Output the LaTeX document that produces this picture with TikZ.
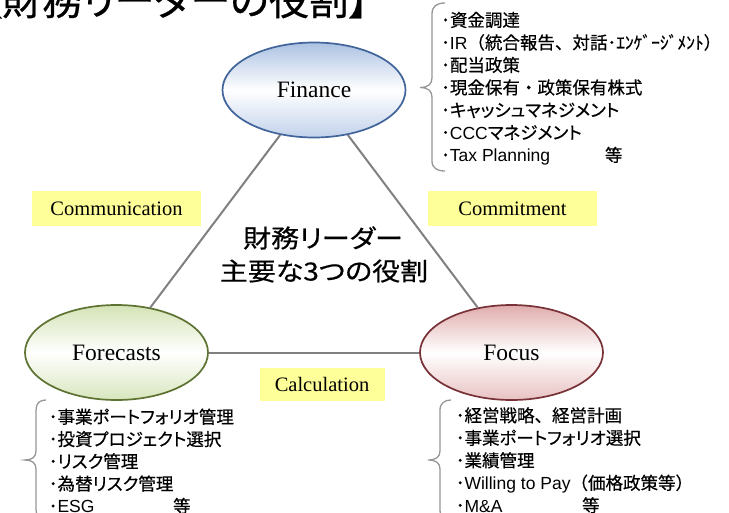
\documentclass[tikz,border=0pt]{standalone}
\usepackage{graphicx}
\usepackage{fontspec}
\setmainfont{Liberation Serif}
\newfontfamily\cjk{Noto Sans CJK JP}[RawFeature=+palt, FakeBold=0.5]
\newfontfamily\cjkf{Noto Sans CJK JP}[FakeBold=0.5]
\newfontfamily\lsans{Liberation Sans}
\newcommand\ltn[1]{{\lsans #1}}
\newcommand\fw[1]{{\cjkf #1}}
\usetikzlibrary{shapes.geometric}
\definecolor{finB}{RGB}{65,100,155}
\definecolor{finT}{RGB}{172,194,226}
\definecolor{finD}{RGB}{194,210,235}
\definecolor{fcB}{RGB}{94,115,50}
\definecolor{fcT}{RGB}{212,227,182}
\definecolor{fcD}{RGB}{216,230,190}
\definecolor{foB}{RGB}{120,50,55}
\definecolor{foT}{RGB}{224,172,172}
\definecolor{foD}{RGB}{232,194,194}
\definecolor{ybox}{RGB}{255,255,153}
\definecolor{lgray}{RGB}{128,128,128}
\definecolor{bgray}{RGB}{150,150,150}
\begin{document}
\begin{tikzpicture}[x=1pt,y=-1pt,
  role/.style={ellipse, line width=1.7pt, minimum width=183pt, minimum height=95pt,
    inner sep=0pt, font=\fontsize{23.5}{28}\selectfont},
  lab/.style={fill=ybox, minimum width=169pt, minimum height=35pt, inner sep=0pt,
    font=\fontsize{20.5}{24}\selectfont},
  conn/.style={draw=lgray, line width=2pt},
  bracepath/.style={draw=bgray, line width=1.3pt},
  item/.style={anchor=base west, inner sep=0pt, font=\cjk\fontsize{17.5}{21}\selectfont},
  ctext/.style={anchor=base, inner sep=0pt, font=\cjk\fontsize{25}{30}\selectfont}]
\useasboundingbox (0,0) rectangle (729,512);
\clip (0,0) rectangle (729,512);

% title (partly cut off)
\node[anchor=base east, inner sep=0pt, font=\cjk\fontsize{40}{44}\selectfont] (title) at (369,15) {【財務リーダーの役割】};

% role ellipses
\node[role, draw=finB, top color=finT, bottom color=finD, middle color=white] (fin) at (314,90) {Finance};
\node[role, draw=fcB, top color=fcT, bottom color=fcD, middle color=white] (fc) at (116.5,352.5) {Forecasts};
\node[role, draw=foB, top color=foT, bottom color=foD, middle color=white] (fo) at (511.5,352.5) {Focus};

% connectors
\draw[conn] (fin) -- (fc);
\draw[conn] (fin) -- (fo);
\draw[conn] (fc) -- (fo);

% yellow labels
\node[lab] (comm) at (116.5,208.5) {Communication};
\node[lab] (commit) at (512.5,208.5) {Commitment};
\node[lab, minimum width=125pt, minimum height=33pt] (calc) at (322,384.5) {Calculation};

% centre text
\node[ctext] (c1) at (323,247.5) {\scalebox{1.12}[1]{財務リーダー}};
\node[ctext] (c2) at (324,280.5) {\scalebox{1.12}[1]{主要な3つの役割}};

% braces
\draw[bracepath] (445,3) .. controls (437,3) and (432,6) .. (432,14) -- (432,78)
  .. controls (432,84) and (428,87.5) .. (420,87.5) .. controls (428,87.5) and (432,91) .. (432,97)
  -- (432,161) .. controls (432,168) and (437,171) .. (445,171);
\draw[bracepath] (46,400) .. controls (40,400) and (36,403) .. (36,410) -- (36,451)
  .. controls (36,457) and (32,460) .. (25,460) .. controls (32,460) and (36,463) .. (36,469)
  -- (36,510) .. controls (36,517) and (40,520) .. (46,520);
\draw[bracepath] (451,400) .. controls (445,400) and (440,403) .. (440,410) -- (440,451)
  .. controls (440,457) and (436,460) .. (428,460) .. controls (436,460) and (440,463) .. (440,469)
  -- (440,510) .. controls (440,517) and (445,520) .. (451,520);

% Finance list
\node[item] (f1) at (441,26.6) {･資金調達};
\node[item] (f2) at (441,49.1) {･\ltn{IR}\fw{（}統合報告\fw{、}対話･ｴﾝｹﾞｰｼﾞﾒﾝﾄ\fw{）}};
\node[item] (f3) at (441,71.6) {･配当政策};
\node[item] (f4) at (441,94.1) {･現金保有\fw{・}政策保有株式};
\node[item] (f5) at (441,116.6) {･キャッシュマネジメント};
\node[item] (f6) at (441,139.1) {･\ltn{CCC}マネジメント};
\node[item] (f7) at (441,161.6) {･\makebox[155pt][l]{\ltn{Tax Planning}}等};

% Forecasts list
\node[item] (g1) at (48.6,423.4) {･事業ポートフォリオ管理};
\node[item] (g2) at (48.6,445.7) {･投資プロジェクト選択};
\node[item] (g3) at (48.6,468.0) {･リスク管理};
\node[item] (g4) at (48.6,490.3) {･為替リスク管理};
\node[item] (g5) at (48.6,512.6) {･\makebox[115.6pt][l]{\ltn{ESG}}等};

% Focus list
\node[item] (h1) at (455.6,422.0) {･経営戦略\fw{、}経営計画};
\node[item] (h2) at (455.6,444.5) {･事業ポートフォリオ選択};
\node[item] (h3) at (455.6,467.0) {･業績管理};
\node[item] (h4) at (455.6,489.5) {･\ltn{Willing to Pay}\fw{（}価格政策等\fw{）}};
\node[item] (h5) at (455.6,512.0) {･\makebox[117.6pt][l]{\ltn{M\&A}}等};
\end{tikzpicture}
\end{document}
